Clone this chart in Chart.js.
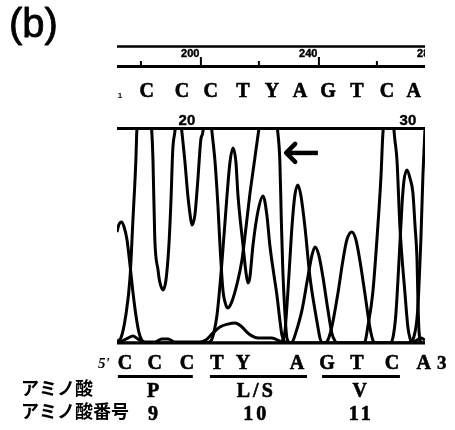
<!DOCTYPE html>
<html><head><meta charset="utf-8">
<script src="https://cdn.jsdelivr.net/npm/chart.js@4"></script>
<style>html,body{margin:0;padding:0;background:#fff;}canvas{display:block;}</style>
</head><body>
<canvas id="c" width="455" height="430"></canvas>
<script>
// Scan positions (ruler units) and trace heights (0 = baseline, 1000 = top of window)
const scanC = [171.9,173.2,174.9,176.3,177.3,178.3,178.6,181.2,183.7,184.1,184.7,185.8,186.4,187.5,188.5,189.5,190.2,190.8,191.5,192.7,193.9,194.9,195.9,196.6,197.3,198.3,199.3,200.3,201.0,202.5,204.1,205.1,206.1,206.8,207.8,208.8,209.5,210.8,212.5,214.2,215.6,216.9,218.3,219.7,223.4,226.4,227.1,227.6,228.1,228.8,229.5,230.8,254.9,255.9,256.9,258.6,260.3,261.4,262.0,264.2,266.1,266.8,267.8,269.5,270.5,271.2,272.2,276.3];
const sigC  = [9,23,130,302,572,851,981,1230,981,847,488,340,284,247,293,456,665,898,981,1120,981,847,688,605,549,595,758,944,981,1200,981,847,642,456,247,177,163,191,270,381,535,688,828,967,1300,981,847,572,340,144,23,0,0,5,74,233,540,781,967,1180,944,851,540,233,74,23,0,0];

const scanT = [171.9,201.7,203.7,204.7,205.8,207.5,209.2,210.2,211.2,212.2,212.9,214.6,215.6,216.3,216.9,218.0,219.7,221.4,222.7,223.7,225.1,226.1,227.1,227.8,228.8,229.8,242.4,243.4,244.7,246.8,248.5,249.8,251.5,252.9,254.2,255.9,257.6,258.6,259.7,271.9,273.6,274.9,276.3];
const sigT  = [0,0,9,47,130,381,688,842,907,842,688,456,330,279,302,456,614,684,595,456,316,223,107,37,5,0,0,14,74,233,386,479,516,479,386,233,74,14,0,0,14,23,14];

const scanA = [171.9,172.5,173.4,174.2,175.3,176.3,177.3,178.3,179.3,180.3,181.7,227.1,228.1,228.8,229.8,230.5,231.2,232.2,233.2,234.2,235.6,237.3,239.0,240.0,240.7,241.7,264.4,265.4,266.4,267.5,268.5,269.2,270.2,271.2,272.2,272.9,273.6,273.9,274.2,274.6,275.3,276.3];
const sigA  = [516,549,563,544,479,363,237,130,51,14,0,0,14,51,233,386,540,688,735,688,540,307,153,74,23,0,0,23,130,386,642,758,805,767,698,549,386,200,74,14,0,0];

const scanG = [171.9,173.6,175.6,177.3,179.0,181.4,184.7,187.1,189.2,191.5,200.0,202.0,204.1,206.8,209.5,211.9,213.9,215.9,217.6,219.7,222.0,224.4,227.1,229.2,230.5,231.5,232.5,234.6,236.6,238.0,239.0,240.3,241.7,243.4,244.7,245.8,246.8,269.5,271.2,272.5,273.6,274.2,274.9,275.6,276.3,277.3];
const sigG  = [5,9,23,33,19,5,5,19,19,5,5,14,42,74,88,93,79,51,33,23,23,23,9,0,0,9,47,153,307,409,447,409,307,153,47,9,0,0,5,28,116,247,479,781,1000,1180];

// Arrow marking the double peak (tip, tail) in scan / signal units
const arrowTip  = [228.9, 884];
const arrowTail = [240.0, 884];

// Ruler
const rulerMinor = [180, 220, 260];
const rulerMajor = [200, 240, 280];
const rulerLabels = ['200', '240', '280'];

// Base calls (top) and numbering
const baseCalls = ['C','C','C','T','Y','A','G','T','C','A'];
const callScan  = [182.0,193.9,203.7,214.6,224.4,233.9,243.4,253.2,263.4,272.5];
const baseNumLabels = ['20', '30'];
const baseNumScan   = [195.6, 270.5];

// Sequence under the trace
const seqBases = ['C','C','C','T','Y','A','G','T','C','A'];
const seqScan  = [174.6,184.7,195.6,205.8,214.6,232.9,243.1,253.2,265.1,275.9];

// Codons
const codonStart = [172.2, 203.4, 241.4];
const codonEnd   = [197.6, 236.3, 267.8];
const codonMid   = [184.1, 218.6, 254.2];
const aminoAcids = ['P', 'L/S', 'V'];
const aminoNums  = ['9', '10', '11'];

const rowLabels = ['アミノ酸', 'アミノ酸番号'];

const mk = (s, v) => s.map((x, i) => ({x: x, y: v[i]}));

const decor = {
  id: 'decor',
  afterDatasetsDraw(chart) {
    const {ctx, chartArea: a} = chart;
    const xs = chart.scales.x, ys = chart.scales.y;
    const px = v => xs.getPixelForValue(v);
    const py = v => ys.getPixelForValue(v);
    const seg = (x1, y1, x2, y2, w) => { ctx.lineWidth = w; ctx.beginPath(); ctx.moveTo(x1, y1); ctx.lineTo(x2, y2); ctx.stroke(); };
    const heavy = (t, x, y, w) => { ctx.lineWidth = w; ctx.strokeText(t, x, y); ctx.fillText(t, x, y); };
    const mono = 'bold 20px "Liberation Serif"';
    ctx.save();
    ctx.strokeStyle = '#000'; ctx.fillStyle = '#000'; ctx.lineJoin = 'round';
    // window borders
    seg(a.left, a.top + 0.5, a.right, a.top + 0.5, 3);
    seg(a.left, a.bottom, a.right, a.bottom, 3);
    // arrow
    const tx = px(arrowTip[0]), ty = py(arrowTip[1]), ex = px(arrowTail[0]), ey = py(arrowTail[1]);
    seg(tx + 3, ty, ex, ey, 4.5);
    ctx.lineCap = 'round';
    ctx.beginPath(); ctx.moveTo(tx + 10, ty - 9); ctx.lineTo(tx + 1, ty); ctx.lineTo(tx + 10, ty + 9);
    ctx.lineWidth = 4.5; ctx.stroke();
    ctx.lineCap = 'butt';
    // ruler
    ctx.save();
    ctx.beginPath(); ctx.rect(a.left, 30, a.right - a.left, 45); ctx.clip();
    seg(a.left, 46.5, a.right, 46.5, 2.5);
    seg(a.left, 66.5, a.right, 66.5, 3);
    rulerMinor.forEach(v => seg(px(v), 61, px(v), 66, 2));
    ctx.font = 'bold 11px "Liberation Sans"';
    ctx.textAlign = 'right'; ctx.textBaseline = 'alphabetic';
    rulerMajor.forEach((v, i) => {
      seg(px(v) + 1, 57, px(v) + 1, 66, 2);
      heavy(rulerLabels[i], px(v) - 0.5, 57, 0.4);
    });
    ctx.restore();
    // base calls
    ctx.textAlign = 'center'; ctx.textBaseline = 'alphabetic';
    ctx.font = mono;
    baseCalls.forEach((b, i) => heavy(b, px(callScan[i]), 97, 0.6));
    ctx.font = 'bold 15px "Liberation Sans"';
    baseNumLabels.forEach((t, i) => heavy(t, px(baseNumScan[i]), 125, 0.4));
    ctx.font = 'bold 8px "Liberation Sans"';
    ctx.fillText('1', a.left + 3, 98);
    // sequence
    ctx.font = mono;
    seqBases.forEach((b, i) => heavy(b, px(seqScan[i]), 369, 0.6));
    ctx.textAlign = 'left';
    ctx.font = 'italic bold 15px "Liberation Serif"';
    ctx.fillText("5'", 98, 368);
    ctx.font = 'bold 19px "Liberation Serif"';
    heavy('3', 437, 369, 0.5);
    // codon underlines
    codonStart.forEach((s, i) => seg(px(s), 376.5, px(codonEnd[i]), 376.5, 3));
    ctx.textAlign = 'center';
    ctx.font = mono;
    ctx.letterSpacing = '3px';
    aminoAcids.forEach((t, i) => heavy(t, px(codonMid[i]) + 1.5, 397, 0.6));
    aminoNums.forEach((t, i) => heavy(t, px(codonMid[i]) + 1.5, 420, 0.6));
    ctx.letterSpacing = '0px';
    // row labels
    ctx.textAlign = 'left'; ctx.textBaseline = 'middle';
    ctx.font = 'bold 18px "Noto Sans CJK JP"';
    ctx.fillText(rowLabels[0], 21, 388);
    ctx.fillText(rowLabels[1], 21, 411);
    // panel letter
    ctx.textBaseline = 'alphabetic';
    ctx.font = '40px "Liberation Sans"';
    heavy('(b)', 9, 37, 0.8);
    ctx.restore();
  }
};

const ds = (label, s, v) => ({label: label, data: mk(s, v), borderColor: '#000', borderWidth: 3,
  pointRadius: 0, fill: false, cubicInterpolationMode: 'monotone', clip: 0});

new Chart(document.getElementById('c'), {
  type: 'line',
  data: { datasets: [ds('C', scanC, sigC), ds('T', scanT, sigT), ds('A', scanA, sigA), ds('G', scanG, sigG)] },
  options: {
    responsive: false, animation: false,
    layout: { padding: { left: 117, right: 30, top: 128, bottom: 87 } },
    scales: {
      x: { type: 'linear', min: 171.9, max: 276.3, display: false },
      y: { min: 0, max: 1000, display: false }
    },
    plugins: { legend: { display: false }, tooltip: { enabled: false } }
  },
  plugins: [decor]
});
</script>
</body></html>
